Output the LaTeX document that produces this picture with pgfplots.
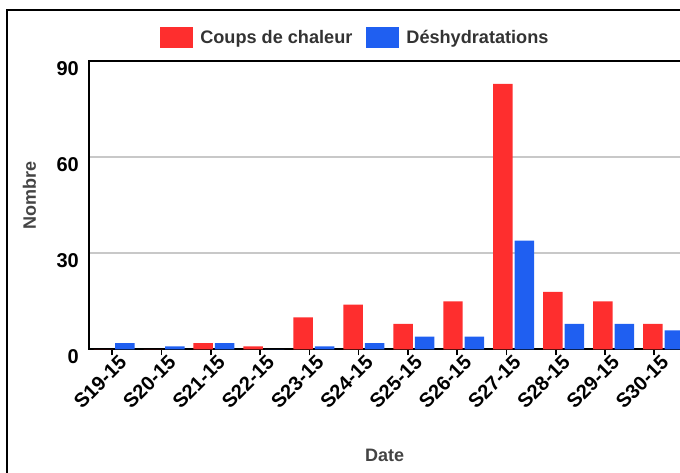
\documentclass[border=0pt]{standalone}
\usepackage{fontspec}
\setmainfont{Liberation Sans}
\usepackage{pgfplots}
\usepackage{pgfplotstable}
\pgfplotsset{compat=1.18}
\definecolor{cred}{RGB}{254,46,46}
\definecolor{cblue}{RGB}{31,95,241}
\definecolor{ctxt}{RGB}{51,51,51}
\definecolor{clab}{RGB}{68,68,68}
\definecolor{cgrid}{RGB}{200,200,200}
\pgfplotstableread{
x red blue
0 0 2
1 0 1
2 2 2
3 1 0
4 10 1
5 14 2
6 8 4
7 15 4
8 83 34
9 18 8
10 15 8
11 8 6
}\datatable
\begin{document}
\begin{tikzpicture}
\useasboundingbox (0,0) rectangle (510pt,354.75pt);
\clip (0,0) rectangle (510pt,354.75pt);
\draw[black, line width=1.5pt] (5.25pt,-2pt) -- (5.25pt,347.25pt) -- (512pt,347.25pt);
\begin{axis}[
  at={(66.825pt,92.625pt)}, anchor=south west,
  x=37.4625pt, y=2.4pt,
  xmin=-0.5, xmax=11.6, ymin=0, ymax=90,
  axis line style={black, line width=1.5pt},
  ytick={0,30,60,90},
  ymajorgrids,
  grid style={cgrid, line width=1.5pt},
  ytick style={draw=none},
  xtick={-0.036,0.950,1.937,2.923,3.910,4.896,5.882,6.869,7.855,8.842,9.828,10.814},
  xticklabels={S19-15,S20-15,S21-15,S22-15,S23-15,S24-15,S25-15,S26-15,S27-15,S28-15,S29-15,S30-15},
  xtick pos=left,
  tick align=outside,
  major tick length=4.5pt,
  xtick style={black, line width=1.2pt},
  /pgf/number format/assume math mode=true,
  xticklabel style={rotate=45, anchor=north east, inner sep=1pt, xshift=5pt, yshift=-1pt, font=\fontsize{15pt}{17pt}\selectfont\bfseries},
  yticklabel style={anchor=east, inner sep=0pt, xshift=-3pt, yshift=-5.5pt, font=\fontsize{15pt}{17pt}\selectfont\bfseries},
  xlabel={Date},
  ylabel={Nombre},
  xlabel style={at={(axis description cs:0.4888,-0.3663)}, anchor=center, text=clab, font=\fontsize{13.5pt}{16pt}\selectfont\bfseries},
  ylabel style={at={(axis description cs:-0.0986,0.534)}, anchor=center, rotate=0, text=clab, font=\fontsize{13.5pt}{16pt}\selectfont\bfseries},
  ybar, bar width=14.6pt,
  legend columns=2,
  legend style={draw=none, fill=none, at={(0.1173,1.0833)}, anchor=west,
    inner sep=0pt, nodes={inner sep=0pt}, text=ctxt,
    font=\fontsize{13.6pt}{16pt}\selectfont\bfseries,
    /tikz/every odd column/.append style={column sep=5.25pt},
    /tikz/every even column/.append style={column sep=10.5pt}},
  legend image code/.code={\fill[#1] (0pt,-7.875pt) rectangle (24.75pt,7.875pt);},
]
\addplot[fill=cred, draw=none, bar shift=-8.06pt] table[x=x, y=red] {\datatable};
\addlegendentry{Coups de chaleur}
\addplot[fill=cblue, draw=none, bar shift=8.06pt] table[x=x, y=blue] {\datatable};
\addlegendentry{Déshydratations}
\end{axis}
\end{tikzpicture}
\end{document}
